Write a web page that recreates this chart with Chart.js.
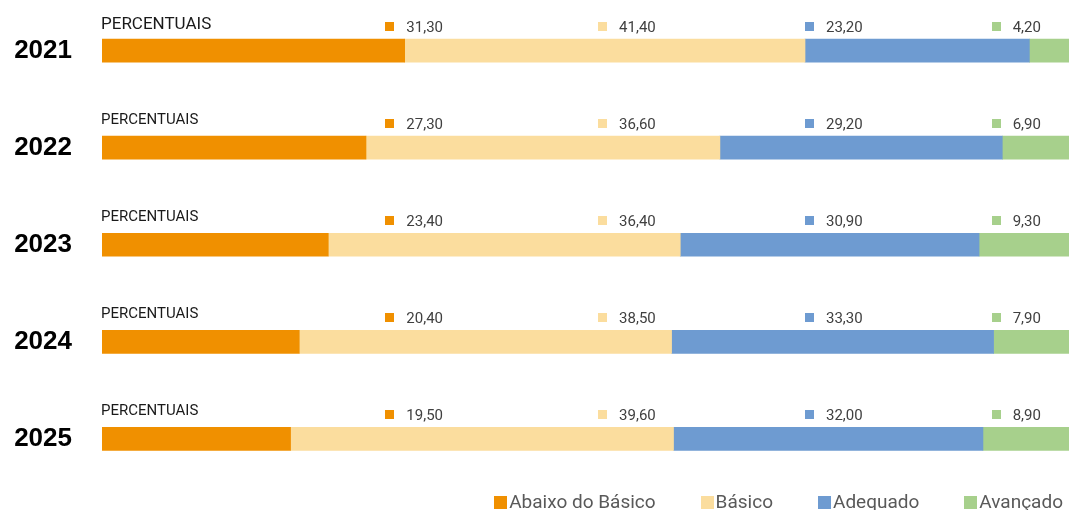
<!DOCTYPE html>
<html>
<head>
<meta charset="utf-8">
<script src="https://cdn.jsdelivr.net/npm/chart.js@4"></script>
<style>
  html, body { margin: 0; padding: 0; background: #ffffff; }
  .chart-container { position: relative; width: 1069px; height: 510px; }
</style>
</head>
<body>
<div class="chart-container"><canvas id="myChart"></canvas></div>
<script>
// proficiency levels per year, percentages
const years = ['2021', '2022', '2023', '2024', '2025'];
const abaixo_do_basico = [31.30, 27.30, 23.40, 20.40, 19.50];
const basico = [41.40, 36.60, 36.40, 38.50, 39.60];
const adequado = [23.20, 29.20, 30.90, 33.30, 32.00];
const avancado = [4.20, 6.90, 9.30, 7.90, 8.90];
const level_names = ['Abaixo do Básico', 'Básico', 'Adequado', 'Avançado'];

const level_colors = ['#f09000', '#fbdd9e', '#6e9bd1', '#a7d08c'];
// where each value label sits, as a share of the plot width
const label_columns = [0.293, 0.513, 0.727, 0.920];

var ctx = document.getElementById('myChart').getContext('2d');

function format_value(v)
{
    return v.toFixed(2).replace('.', ',');
}

// "PERCENTUAIS" caption and the value row above every bar
const row_labels = {
    id: 'row_labels',
    afterDatasetsDraw(chart) {
        let c = chart.ctx;
        let area = chart.chartArea;
        let width = area.right - area.left;
        let first_meta = chart.getDatasetMeta(0);

        c.save();
        c.textAlign = 'left';
        c.textBaseline = 'alphabetic';

        first_meta.data.forEach((bar, j) => {
            let bar_top = bar.y - bar.height / 2;

            c.fillStyle = '#1a1a1a';
            if (j === 0) {
                c.font = '17px Roboto';
                c.fillText('PERCENTUAIS', area.left - 1, bar_top - 10);
            } else {
                c.font = '15px Roboto';
                c.fillText('PERCENTUAIS', area.left - 1, bar_top - 12);
            }

            chart.data.datasets.forEach((ds, i) => {
                let x = area.left + label_columns[i] * width;
                c.fillStyle = level_colors[i];
                c.fillRect(Math.round(x), Math.round(bar_top - 17), 9, 9);
                c.fillStyle = '#404040';
                c.font = '15px Roboto';
                c.fillText(format_value(ds.data[j]), x + 21, bar_top - 7);
            });
        });
        c.restore();
    }
};

// legend at the bottom right, drawn by hand for tight box/text spacing
const bottom_legend = {
    id: 'bottom_legend',
    afterDraw(chart) {
        let c = chart.ctx;
        c.save();
        c.font = '19px Roboto';
        c.textBaseline = 'alphabetic';
        c.textAlign = 'left';

        let box = 13, gap = 2, spacing = 45;
        let widths = level_names.map(n => box + gap + c.measureText(n).width);
        let total = widths.reduce((a, b) => a + b, 0) + spacing * (level_names.length - 1);
        let x = 1063 - total;

        level_names.forEach((name, i) => {
            c.fillStyle = level_colors[i];
            c.fillRect(Math.round(x), 496, box, box);
            c.fillStyle = '#595959';
            c.fillText(name, x + box + gap, 508);
            x += widths[i] + spacing;
        });
        c.restore();
    }
};

function create_datasets()
{
    let series = [abaixo_do_basico, basico, adequado, avancado];
    return series.map((values, i) => ({
        label: level_names[i],
        data: values,
        backgroundColor: level_colors[i],
        borderWidth: 0,
        barThickness: 23
    }));
}

var chart = new Chart(ctx, {
    type: 'bar',
    data: {
        labels: years,
        datasets: create_datasets()
    },
    options: {
        indexAxis: 'y',
        responsive: true,
        maintainAspectRatio: false,
        animation: false,
        layout: { padding: { top: 2, bottom: 22.5, right: 0, left: 0 } },
        scales: {
            x: {
                stacked: true,
                min: 0,
                max: 100,
                display: false
            },
            y: {
                stacked: true,
                grid: { display: false, drawTicks: false },
                border: { display: false },
                ticks: {
                    color: '#000000',
                    padding: 30,
                    font: { family: 'Liberation Sans', size: 26, weight: 'bold' }
                },
                afterFit(scale) {
                    // year labels should not push the bars inward vertically
                    scale.width = 102;
                    scale.paddingTop = 0;
                    scale.paddingBottom = 0;
                }
            }
        },
        plugins: {
            legend: { display: false },
            tooltip: { enabled: false }
        }
    },
    plugins: [row_labels, bottom_legend]
});
</script>
</body>
</html>
